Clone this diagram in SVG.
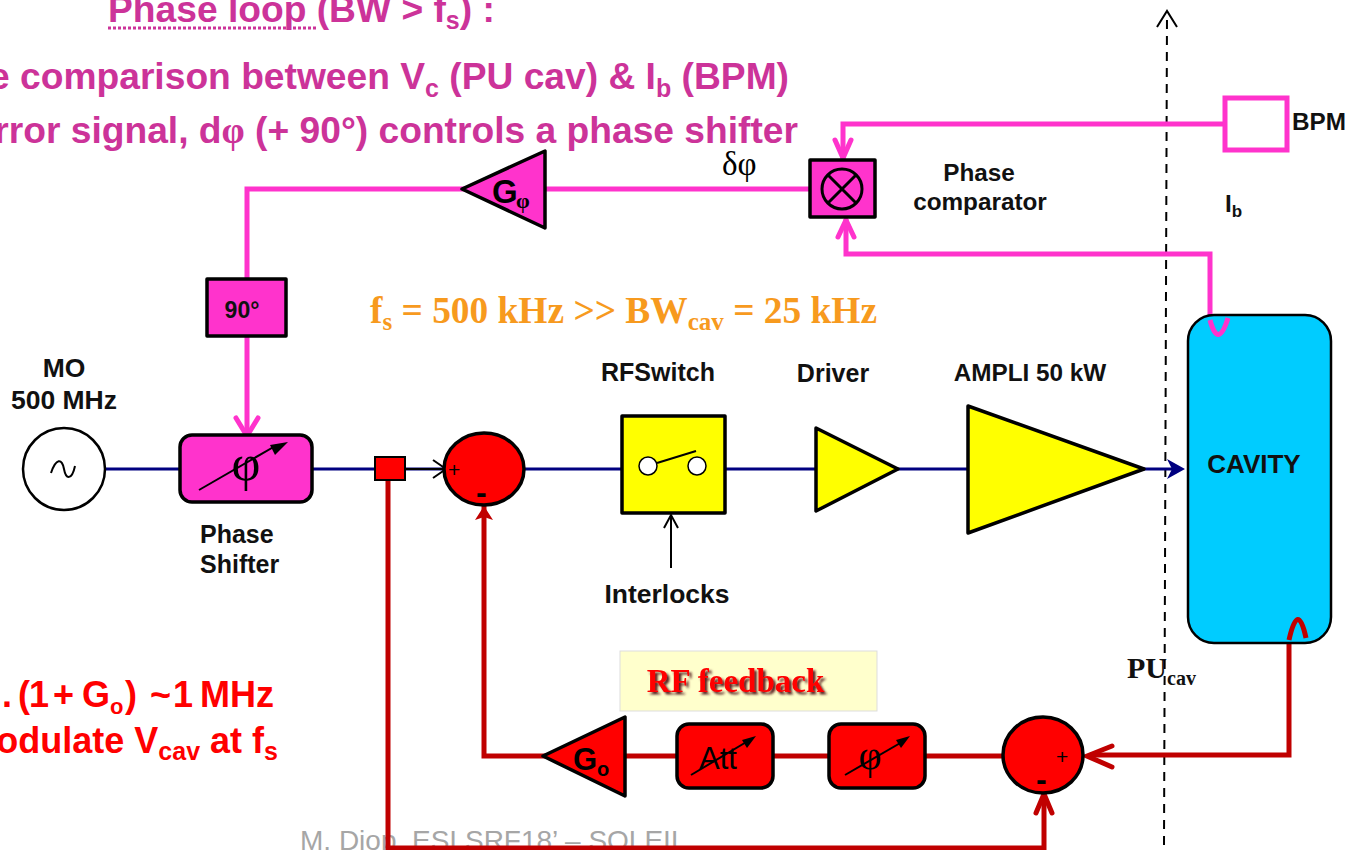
<svg xmlns="http://www.w3.org/2000/svg" width="1347" height="850" viewBox="0 0 1347 850">
<defs><filter id="sh" x="-10%" y="-20%" width="120%" height="150%"><feDropShadow dx="2.5" dy="2.5" stdDeviation="0.8" flood-color="#5a2020"/></filter></defs>
<style>
text{font-family:"Liberation Sans",Arial,sans-serif;font-weight:700;fill:#111}
.serif{font-family:"Liberation Serif","Times New Roman",serif}
.t{fill:#CC3399;font-size:37.2px}
.r{fill:#FF0000;font-size:36px}
.l{font-size:24.3px}
.blk{stroke:#000;stroke-width:3.5;stroke-linejoin:round}
.pink{fill:none;stroke:#FF33CC;stroke-width:5}
.red{fill:none;stroke:#C00000;stroke-width:5}
.navy{fill:none;stroke:#000080;stroke-width:3}
.thin{fill:none;stroke:#000;stroke-width:2}
</style>
<rect width="1347" height="850" fill="#fff"/>
<g id="annotations">
<text class="t" x="108" y="22">Phase loop (BW &gt; f<tspan dy="7" font-size="25">s</tspan><tspan dy="-7">) :</tspan></text>
<line x1="108" y1="28" x2="316" y2="28" stroke="#CC3399" stroke-width="3" stroke-dasharray="3 2"/>
<text class="t" x="789" y="89" text-anchor="end">e comparison between V<tspan dy="8" font-size="25">c</tspan><tspan dy="-8"> (PU cav) &amp; I</tspan><tspan dy="8" font-size="25">b</tspan><tspan dy="-8"> (BPM)</tspan></text>
<text class="t" x="798" y="143" text-anchor="end">rror signal, d<tspan class="serif">φ</tspan> (+ 90°) controls a phase shifter</text>
<text x="877" y="323" text-anchor="end" class="serif" style="fill:#F79A1E;font-size:37.4px">f<tspan dy="7" font-size="25">s</tspan><tspan dy="-7"> = 500 kHz &gt;&gt; BW</tspan><tspan dy="7" font-size="25">cav</tspan><tspan dy="-7"> = 25 kHz</tspan></text>
<text class="r" y="707"><tspan x="2">.</tspan><tspan x="18">(</tspan><tspan x="29">1</tspan><tspan x="53">+</tspan><tspan x="82">G</tspan><tspan x="110" dy="7" font-size="22">o</tspan><tspan x="125" dy="-7">)</tspan><tspan x="150">~</tspan><tspan x="173">1</tspan><tspan x="200">MHz</tspan></text>
<text class="r" x="278" y="753" text-anchor="end">odulate V<tspan dy="7" font-size="25">cav</tspan><tspan dy="-7"> at f</tspan><tspan dy="7" font-size="25">s</tspan></text>
<text x="300" y="850" style="font-size:28px;font-weight:400;fill:#A6A6A6">M. Diop, ESLSRF18’ – SOLEIL</text>
<text class="l" x="979" y="181" text-anchor="middle">Phase</text>
<text class="l" x="980" y="210" text-anchor="middle">comparator</text>
<text class="l" x="1292" y="130">BPM</text>
<text class="l" x="1225" y="212">I<tspan dy="5" font-size="17">b</tspan></text>
<text class="serif" x="722" y="175" style="font-size:33px;font-weight:400;fill:#000">δφ</text>
<text x="64" y="377" text-anchor="middle" style="font-size:26.5px">MO</text>
<text x="64" y="409" text-anchor="middle" style="font-size:26.5px">500 MHz</text>
<text x="200" y="543" style="font-size:25px">Phase</text>
<text x="200" y="573" style="font-size:25px">Shifter</text>
<text x="658" y="381" text-anchor="middle" style="font-size:25px">RFSwitch</text>
<text x="833" y="382" text-anchor="middle" style="font-size:25px">Driver</text>
<text class="l" x="1030" y="381" text-anchor="middle">AMPLI 50 kW</text>
<text x="667" y="603" text-anchor="middle" style="font-size:26.5px">Interlocks</text>
<text class="serif" x="1127" y="678" font-size="30">PU<tspan dy="7" font-size="20">cav</tspan></text>
</g>
<g id="connectors">
<line x1="1164" y1="845" x2="1167" y2="14" stroke="#000" stroke-width="2" stroke-dasharray="9 7"/>
<path class="thin" d="M1157 27L1167 11L1177 27"/>
<path class="navy" d="M105 469H180M313 469H375M405 469H445M525 469H622M725 469H816M898 469H968M1144 469H1180"/>
<path d="M1167 459L1185 469L1167 479L1172 469Z" fill="#000080"/>
<path class="thin" d="M406 469H444M433 460L446 469L433 478"/>
<path class="thin" d="M671 568V515M664 528L671 515L678 528"/>
<path class="pink" d="M1226 124H843V159"/>
<path class="pink" d="M835 140L843 158L851 140" stroke-linecap="round"/>
<path class="pink" d="M1210 337V254H846V219"/>
<path class="pink" d="M838 237L846 220L854 237" stroke-linecap="round"/>
<path class="pink" d="M810 189H247V434"/>
<path class="pink" d="M236 418L247 436L258 418" stroke-linecap="round"/>
<path class="red" d="M388 480V848H1044V795"/>
<path class="red" d="M1036 813L1044 794L1052 813" stroke-linecap="round"/>
<path class="red" d="M1289 640V755H1090"/>
<path class="red" d="M1112 746L1087 756L1112 767" stroke-linecap="round"/>
<path class="red" d="M1003 756H484V505"/>
<path d="M484 506L475 520L484 517L493 520Z" fill="#C00000"/>
</g>
<g id="mo"><circle cx="64" cy="469" r="41" fill="#fff" stroke="#000" stroke-width="2.5"/>
<path class="thin" d="M51 473C56 458 62 458 64 469C66 480 72 480 75 466"/></g>
<g id="phase-shifter"><rect x="180" y="435" width="132" height="67" rx="12" fill="#FF33CC" class="blk"/>
<text class="serif" x="246" y="480" text-anchor="middle" style="font-size:50px;font-weight:400;fill:#000">φ</text>
<path class="thin" d="M199 490L277 445"/><path d="M288 442L270 445L275 455Z" fill="#000"/></g>
<g id="splitter"><rect x="375" y="457" width="30" height="23" fill="#FF0000" stroke="#000" stroke-width="2"/></g>
<g id="sum1"><ellipse cx="484" cy="469" rx="40" ry="36" fill="#FF0000" class="blk"/>
<text x="448" y="477" style="font-size:21px;font-weight:400;fill:#000">+</text>
<text x="476" y="503" style="font-size:32px;fill:#000">-</text></g>
<g id="rf-switch"><rect x="622" y="416" width="103" height="97" fill="#FFFF00" class="blk"/>
<circle cx="648" cy="466" r="9" fill="#fff" stroke="#000" stroke-width="1.5"/><circle cx="697" cy="466" r="9" fill="#fff" stroke="#000" stroke-width="1.5"/>
<line x1="657" y1="463" x2="696" y2="451" stroke="#000" stroke-width="2"/></g>
<g id="driver"><path d="M816 428L898 469L816 511Z" fill="#FFFF00" class="blk"/></g>
<g id="ampli"><path d="M968 406L1144 469L968 533Z" fill="#FFFF00" class="blk"/></g>
<g id="cavity"><rect x="1188" y="315" width="143" height="328" rx="26" fill="#00CCFF" stroke="#000" stroke-width="2.5"/>
<text x="1254" y="473" text-anchor="middle" style="font-size:26px">CAVITY</text></g>
<g id="antennas"><path class="pink" d="M1210 320Q1218 350 1228 318"/><path class="red" d="M1289 640Q1298 600 1306 638"/></g>
<g id="bpm"><rect x="1225" y="98" width="62" height="52" fill="#fff" stroke="#FF33CC" stroke-width="5"/></g>
<g id="phase-comparator"><rect x="810" y="160" width="65" height="57" fill="#FF33CC" class="blk"/>
<circle cx="842" cy="189" r="20" fill="none" stroke="#000" stroke-width="3"/>
<path d="M828 175L856 203M856 175L828 203" stroke="#000" stroke-width="3"/></g>
<g id="g-phi"><path d="M462 189L545 151V228Z" fill="#FF33CC" class="blk"/>
<text x="492" y="203" style="font-size:33px;fill:#000">G</text>
<text class="serif" x="516" y="208" style="font-size:22px;fill:#000">φ</text></g>
<g id="deg90"><rect x="207" y="279" width="79" height="57" fill="#FF33CC" class="blk"/>
<text x="242" y="318" text-anchor="middle" style="font-size:23px">90°</text></g>
<g id="rf-feedback"><rect x="620" y="651" width="257" height="60" fill="#FFFFCC" stroke="#ddd"/>
<text class="serif" x="735.5" y="692" text-anchor="middle" filter="url(#sh)" style="font-size:33px;fill:#FF0000">RF feedback</text></g>
<g id="g-o"><path d="M543 756L625 717V796Z" fill="#FF0000" class="blk"/>
<text x="573" y="770" style="font-size:31px;fill:#000">G</text><text x="597" y="776" style="font-size:20px;fill:#000">o</text></g>
<g id="att"><rect x="677" y="724" width="96" height="64" rx="12" fill="#FF0000" class="blk"/>
<text x="718" y="769" text-anchor="middle" style="font-size:31px;font-weight:400;fill:#000">Att</text>
<path class="thin" d="M691 775L748 741"/><path d="M756 736L742 740L747 748Z" fill="#000"/></g>
<g id="phi2"><rect x="829" y="724" width="96" height="64" rx="12" fill="#FF0000" class="blk"/>
<text class="serif" x="870" y="769" text-anchor="middle" style="font-size:40px;font-weight:400;fill:#000">φ</text>
<path class="thin" d="M845 775L902 742"/><path d="M910 736L896 740L901 748Z" fill="#000"/></g>
<g id="sum2"><ellipse cx="1043" cy="755" rx="40" ry="38" fill="#FF0000" class="blk"/>
<text x="1056" y="764" style="font-size:21px;font-weight:400;fill:#000">+</text>
<text x="1036" y="790" style="font-size:32px;fill:#000">-</text></g>
</svg>
